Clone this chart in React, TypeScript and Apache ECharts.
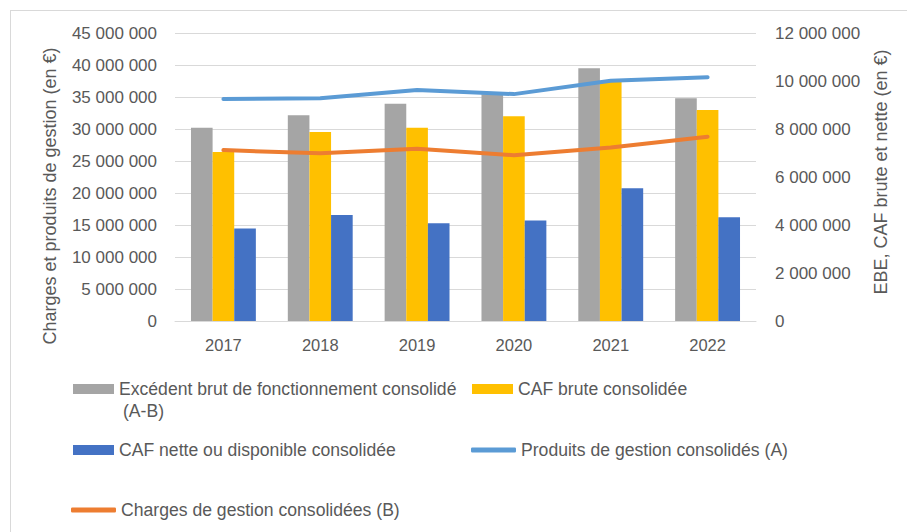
import React, { useEffect, useRef } from 'react';
import * as echarts from 'echarts';

const years = ['2017', '2018', '2019', '2020', '2021', '2022'];
const ebe = [8050000, 8570000, 9050000, 9450000, 10530000, 9280000];
const cafBrute = [7040000, 7880000, 8050000, 8530000, 10000000, 8790000];
const cafNette = [3850000, 4420000, 4070000, 4190000, 5530000, 4320000];
const produits = [34700000, 34800000, 36100000, 35450000, 37550000, 38100000];
const charges = [26700000, 26200000, 26900000, 25900000, 27100000, 28800000];

const leftAxisMax = 45000000;
const leftAxisStep = 5000000;
const rightAxisMax = 12000000;
const rightAxisStep = 2000000;

const nameEbe = 'Excédent brut de fonctionnement consolidé (A-B)';
const nameCafBrute = 'CAF brute consolidée';
const nameCafNette = 'CAF nette ou disponible consolidée';
const nameProduits = 'Produits de gestion consolidés (A)';
const nameCharges = 'Charges de gestion consolidées (B)';
const titleLeft = 'Charges et produits de gestion (en €)';
const titleRight = 'EBE, CAF brute et nette (en €)';

const FONT = "'Liberation Sans', Arial, sans-serif";
const TXT = '#595959';
const GRID = '#d9d9d9';

const fmt = (v: number) => String(v).replace(/\B(?=(\d{3})+(?!\d))/g, ' ');

export default function App() {
  const ref = useRef<HTMLDivElement>(null);
  useEffect(() => {
    if (!ref.current) return;
    const chart = echarts.init(ref.current, undefined, { renderer: 'svg' });
    const legendText = { color: TXT, fontSize: 17.6, fontFamily: FONT };
    const mkLegend = (name: string, icon: string, left: number, top: number, w: number, h: number) => ({
      data: [{ name, icon }],
      left,
      top,
      itemWidth: w,
      itemHeight: h,
      padding: 0,
      selectedMode: false,
      textStyle: legendText,
      formatter: (n: string) => n.replace(' (A-B)', ''),
    });
    chart.setOption({
      animation: false,
      textStyle: { fontFamily: FONT },
      grid: { left: 175, right: 151, top: 33, bottom: 211, containLabel: false, outerBoundsMode: 'none' },
      xAxis: {
        type: 'category',
        data: years,
        axisLine: { show: true, lineStyle: { color: GRID, width: 1 } },
        axisTick: { show: false },
        axisLabel: { color: TXT, fontSize: 16.5, fontFamily: FONT, margin: 15 },
      },
      yAxis: [
        {
          type: 'value',
          min: 0,
          max: leftAxisMax,
          interval: leftAxisStep,
          axisLine: { show: false },
          axisTick: { show: false },
          splitLine: { show: true, lineStyle: { color: GRID, width: 1 } },
          axisLabel: { color: TXT, fontSize: 17, fontFamily: FONT, margin: 18, formatter: fmt },
        },
        {
          type: 'value',
          min: 0,
          max: rightAxisMax,
          interval: rightAxisStep,
          position: 'right',
          axisLine: { show: false },
          axisTick: { show: false },
          splitLine: { show: false },
          axisLabel: { color: TXT, fontSize: 17, fontFamily: FONT, margin: 19, formatter: fmt },
        },
      ],
      legend: [
        mkLegend(nameEbe, 'rect', 73, 380, 41, 10),
        mkLegend(nameCafBrute, 'rect', 472, 380, 41, 10),
        mkLegend(nameCafNette, 'rect', 73, 441, 41, 10),
        mkLegend(nameProduits, 'roundRect', 471, 441, 45, 5),
        mkLegend(nameCharges, 'roundRect', 71, 501, 45, 5),
      ],
      graphic: [
        { type: 'line', shape: { x1: 10, y1: 10.5, x2: 907, y2: 10.5 }, style: { stroke: GRID, lineWidth: 1 }, silent: true },
        { type: 'line', shape: { x1: 10.5, y1: 10, x2: 10.5, y2: 532 }, style: { stroke: GRID, lineWidth: 1 }, silent: true },
        {
          type: 'text', x: 123, y: 411,
          style: { text: '(A-B)', fill: TXT, fontSize: 17.6, fontFamily: FONT, align: 'left', verticalAlign: 'middle', textAlign: 'left', textVerticalAlign: 'middle' },
        },
        {
          type: 'text', x: 50, y: 196, rotation: Math.PI / 2,
          style: { text: titleLeft, fill: TXT, fontSize: 18, fontFamily: FONT, align: 'center', verticalAlign: 'middle', textAlign: 'center', textVerticalAlign: 'middle' },
        },
        {
          type: 'text', x: 881, y: 172, rotation: Math.PI / 2,
          style: { text: titleRight, fill: TXT, fontSize: 18, fontFamily: FONT, align: 'center', verticalAlign: 'middle', textAlign: 'center', textVerticalAlign: 'middle' },
        },
      ],
      series: [
        { name: nameEbe, type: 'bar', yAxisIndex: 1, data: ebe, itemStyle: { color: '#a5a5a5' }, barGap: '0%', barCategoryGap: '33%' },
        { name: nameCafBrute, type: 'bar', yAxisIndex: 1, data: cafBrute, itemStyle: { color: '#ffc000' }, barGap: '0%', barCategoryGap: '33%' },
        { name: nameCafNette, type: 'bar', yAxisIndex: 1, data: cafNette, itemStyle: { color: '#4472c4' }, barGap: '0%', barCategoryGap: '33%' },
        {
          name: nameProduits, type: 'line', yAxisIndex: 0, data: produits, showSymbol: false, symbol: 'none',
          itemStyle: { color: '#5b9bd5' }, lineStyle: { color: '#5b9bd5', width: 4, cap: 'round', join: 'round' }, z: 5,
        },
        {
          name: nameCharges, type: 'line', yAxisIndex: 0, data: charges, showSymbol: false, symbol: 'none',
          itemStyle: { color: '#ed7d31' }, lineStyle: { color: '#ed7d31', width: 4, cap: 'round', join: 'round' }, z: 5,
        },
      ],
    });
    return () => chart.dispose();
  }, []);
  return <div ref={ref} style={{ position: 'fixed', left: 0, top: 0, width: 907, height: 532, background: '#fff' }} />;
}
